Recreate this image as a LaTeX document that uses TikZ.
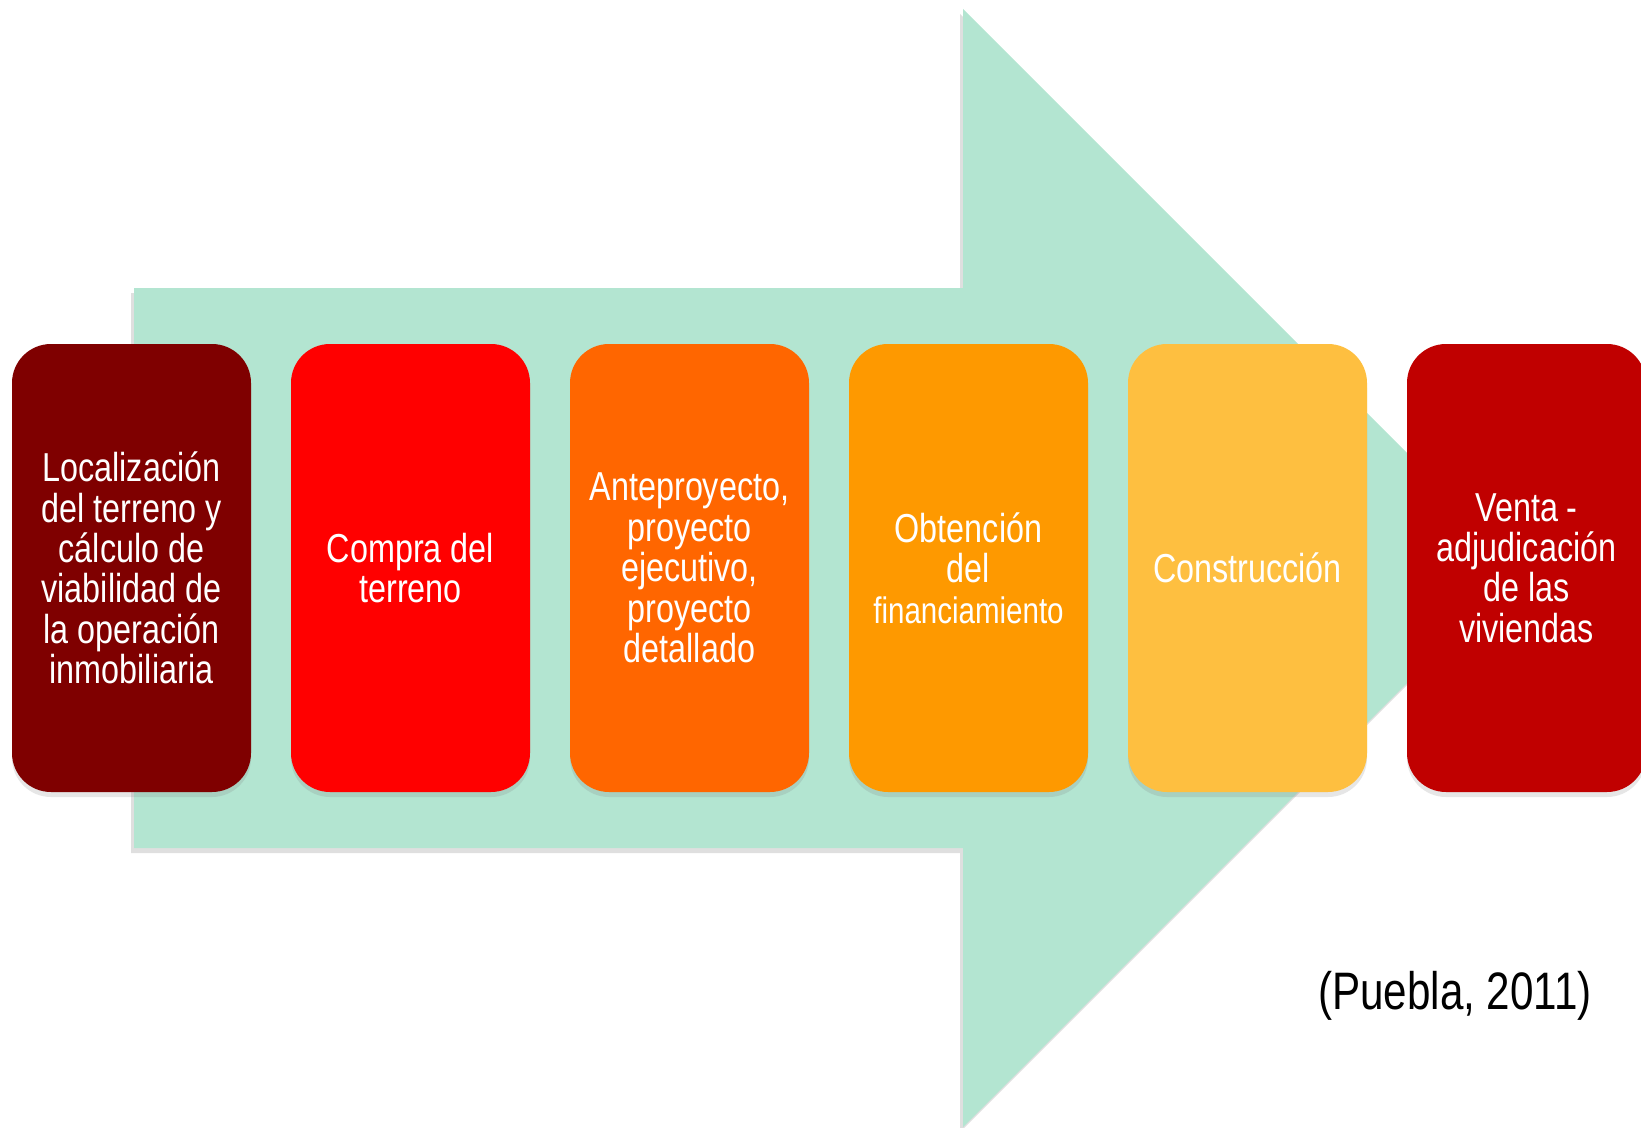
\documentclass[tikz,border=0pt]{standalone}
\usepackage{fontspec}
\setmainfont{Liberation Sans}[FakeStretch=0.8]
\usetikzlibrary{shadows}
\definecolor{flecha}{HTML}{B3E5D1}
\definecolor{paso1}{HTML}{7F0000}
\definecolor{paso2}{HTML}{FF0000}
\definecolor{paso3}{HTML}{FF6600}
\definecolor{paso4}{HTML}{FE9900}
\definecolor{paso5}{HTML}{FEBF40}
\definecolor{paso6}{HTML}{C00000}
\tikzset{
  paso/.style={rounded corners=3.9mm,minimum width=23.9mm,minimum height=44.8mm,
    inner sep=0pt,text width=22.6mm,align=flush center,text=white,
    font=\fontsize{11.5}{11.5}\selectfont,
    drop shadow={shadow xshift=0pt,shadow yshift=-0.5mm,opacity=0.2}},
}
\begin{document}
\begin{tikzpicture}[x=0.1mm,y=-0.1mm,line join=round]
	\useasboundingbox (0,0) rectangle (1641,1128);
	\clip (0,0) rectangle (1641,1128);
	% flecha de fondo
	\fill[flecha,drop shadow={shadow xshift=-0.3mm,shadow yshift=-0.5mm,opacity=0.25}]
	(134,288)--(963,288)--(963,9)--(1522,568)--(963,1127)--(963,848)--(134,848)--cycle;
	% etapas
	\foreach \i/\c/\t in {
		1/paso1/{Localización\\del terreno y\\cálculo de\\viabilidad de\\la operación\\inmobiliaria},
		2/paso2/{Compra del\\terreno},
		3/paso3/{Anteproyecto,\\proyecto\\ejecutivo,\\proyecto\\detallado},
		4/paso4/{Obtención\\del\\{\fontsize{10.5}{11}\selectfont financiamiento}},
		5/paso5/{Construcción},
		6/paso6/{Venta -\\adjudicación\\de las\\viviendas}}
	\node[paso,fill=\c] (b\i) at ({131.5+279*(\i-1)},568) {\t};
	\node[anchor=base] (fuente) at (1455,1009) {\fontsize{15}{18}\selectfont (Puebla, 2011)};
\end{tikzpicture}
\end{document}
